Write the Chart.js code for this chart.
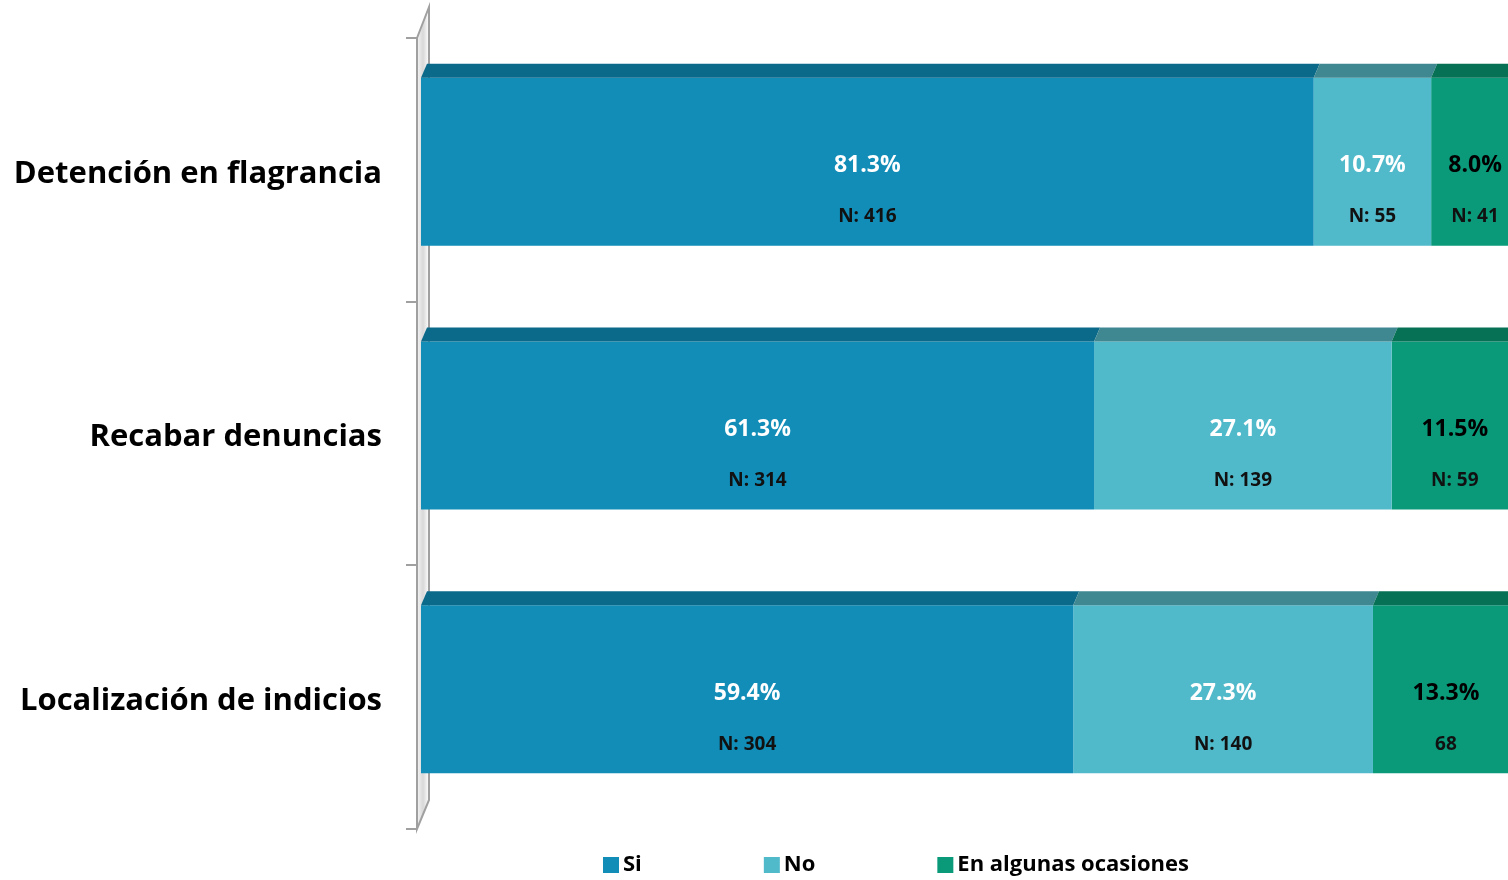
<!DOCTYPE html>
<html>
<head>
<meta charset="utf-8">
<script src="https://cdn.jsdelivr.net/npm/chart.js@4"></script>
<style>
  html, body { margin: 0; padding: 0; background: #fff; overflow: hidden; }
  #wrap { width: 1530px; height: 880px; }
</style>
</head>
<body>
<div id="wrap"><canvas id="chart" width="1530" height="880"></canvas></div>
<script>
const categories = ['Detención en flagrancia', 'Recabar denuncias', 'Localización de indicios'];
const seriesNames = ['Si', 'No', 'En algunas ocasiones'];
const siPct = [81.3, 61.3, 59.4];
const noPct = [10.7, 27.1, 27.3];
const ocasionesPct = [8.0, 11.5, 13.3];
const siN = ['N: 416', 'N: 314', 'N: 304'];
const noN = ['N: 55', 'N: 139', 'N: 140'];
const ocasionesN = ['N: 41', 'N: 59', '68'];

const frontColors = ['#118db8', '#50b9ca', '#0a9a7a'];
const topColors = ['#0b6a8a', '#3f8791', '#077156'];
const pctColors = ['#ffffff', '#ffffff', '#000000'];
const nLabels = [siN, noN, ocasionesN];
const FONT = '"Open Sans", "Liberation Sans", sans-serif';

// pared 3D del eje de categorias
const wallPlugin = {
  id: 'wall',
  beforeDatasetsDraw(chart) {
    const { ctx, chartArea: a } = chart;
    const yScale = chart.scales.y;
    ctx.save();
    const g = ctx.createLinearGradient(a.left - 4, 0, a.left + 8, 0);
    g.addColorStop(0, '#f4f4f4');
    g.addColorStop(0.5, '#d8d8d8');
    g.addColorStop(1, '#ffffff');
    ctx.fillStyle = g;
    ctx.beginPath();
    ctx.moveTo(a.left - 4, a.top + 8);
    ctx.lineTo(a.left + 8, a.top - 23);
    ctx.lineTo(a.left + 8, a.bottom - 21);
    ctx.lineTo(a.left - 4, a.bottom + 8);
    ctx.closePath();
    ctx.fill();
    ctx.strokeStyle = '#a0a0a0';
    ctx.lineWidth = 2;
    ctx.stroke();
    // marcas entre categorias
    const n = yScale.ticks.length;
    const band = (a.bottom - a.top) / n;
    for (let i = 0; i <= n; i++) {
      const y = Math.round(a.top + band * i + 8);
      ctx.beginPath();
      ctx.moveTo(a.left - 15, y);
      ctx.lineTo(a.left - 4, y);
      ctx.stroke();
    }
    ctx.restore();
  }
};

// cara superior de las barras + etiquetas
const barPlugin = {
  id: 'bar3d',
  afterDatasetsDraw(chart) {
    const ctx = chart.ctx;
    ctx.save();
    chart.data.datasets.forEach((ds, i) => {
      const meta = chart.getDatasetMeta(i);
      meta.data.forEach((bar, j) => {
        const top = bar.y - bar.height / 2;
        ctx.fillStyle = topColors[i];
        ctx.beginPath();
        ctx.moveTo(bar.base, top);
        ctx.lineTo(bar.x, top);
        ctx.lineTo(bar.x + 6, top - 14);
        ctx.lineTo(bar.base + 6, top - 14);
        ctx.closePath();
        ctx.fill();

        const cx = (bar.x + bar.base) / 2;
        ctx.textAlign = 'center';
        ctx.textBaseline = 'middle';
        ctx.fillStyle = pctColors[i];
        ctx.font = 'bold 23px ' + FONT;
        ctx.fillText(ds.data[j].toFixed(1) + '%', cx, bar.y + 4);
        ctx.fillStyle = '#111';
        ctx.font = 'bold 19px ' + FONT;
        ctx.fillText(nLabels[i][j], cx, bar.y + 55);
      });
    });
    ctx.restore();
  },
  afterDraw(chart) {
    // leyenda inferior
    const ctx = chart.ctx;
    ctx.save();
    ctx.font = 'bold 22px ' + FONT;
    ctx.textBaseline = 'middle';
    ctx.textAlign = 'left';
    let x = 603;
    const y = 865;
    chart.data.datasets.forEach((ds, i) => {
      ctx.fillStyle = frontColors[i];
      ctx.fillRect(x, y - 8, 16, 16);
      ctx.fillStyle = '#000';
      ctx.fillText(ds.label, x + 20, y);
      x += 20 + ctx.measureText(ds.label).width + 122;
    });
    ctx.restore();
  }
};

const ctx = document.getElementById('chart').getContext('2d');
new Chart(ctx, {
  type: 'bar',
  data: {
    labels: categories,
    datasets: [
      { label: seriesNames[0], data: siPct, backgroundColor: frontColors[0] },
      { label: seriesNames[1], data: noPct, backgroundColor: frontColors[1] },
      { label: seriesNames[2], data: ocasionesPct, backgroundColor: frontColors[2] }
    ]
  },
  options: {
    indexAxis: 'y',
    responsive: false,
    animation: false,
    devicePixelRatio: 1,
    barPercentage: 0.637,
    categoryPercentage: 1,
    layout: { padding: { top: 30, bottom: 59, left: 0, right: 11 } },
    scales: {
      x: { stacked: true, min: 0, max: 100, display: false },
      y: {
        stacked: true,
        grid: { display: false, drawTicks: false },
        border: { display: false },
        afterFit(scale) {
          scale.width = 421;
          scale.paddingTop = 0;
          scale.paddingBottom = 0;
        },
        ticks: {
          color: '#000',
          padding: 39,
          labelOffset: 12,
          font: { family: FONT, size: 31, weight: 'bold' }
        }
      }
    },
    plugins: {
      legend: { display: false },
      tooltip: { enabled: false }
    }
  },
  plugins: [wallPlugin, barPlugin]
});
</script>
</body>
</html>
